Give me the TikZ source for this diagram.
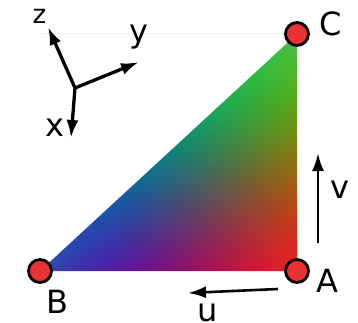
\documentclass[tikz,border=0pt]{standalone}
\usepackage{fontspec}
\setmainfont{DejaVu Sans}
\definecolor{ptred}{RGB}{234,50,52}
\usetikzlibrary{arrows.meta}
% red at A, blue at B, green at C; saturated mix, pulled to the muted
% corner colours near the corners
\pgfdeclarefunctionalshading{rgbtri}{\pgfpointorigin}{\pgfpoint{100bp}{100bp}}{}{
  25 sub 50 div exch 25 sub 50 div
  exch 2 copy sub 3 1 roll exch 1 exch sub exch
  2 index dup dup mul mul
  2 index dup dup mul mul add
  1 index dup dup mul mul add
  3 index -0.09 mul 3 index 0.21 mul add 2 index 0.32 mul add 1 index mul 4 index add
  4 index 0.13 mul 4 index 0.32 mul add 3 index -0.27 mul add 2 index mul 3 index add
  5 index 0.16 mul 5 index -0.35 mul add 4 index 0.28 mul add 3 index mul 5 index add
  7 3 roll pop pop pop pop
}
\tikzset{
  vertex/.style={circle, draw=black, line width=2.8pt, fill=ptred, minimum size=23pt, inner sep=0pt},
  lab/.style={font=\fontsize{32}{36}\selectfont, inner sep=0pt, anchor=base},
  axis/.style={line width=3.3pt, -{Latex[length=18pt,width=12pt]}},
}

\begin{document}
\begin{tikzpicture}[x=1pt,y=-1pt]
  \useasboundingbox (0,0) rectangle (358,323);

  % triangle
  \coordinate (a) at (297,271);
  \coordinate (b) at (40,271);
  \coordinate (c) at (297,34);
  \coordinate (top) at (40,34);
  \draw[gray!12, line width=1pt] (top) -- (c);
  \shade[shading=rgbtri] (b) -- (a) -- (c) -- cycle;

  \node[vertex] (ptA) at (a) {};
  \node[vertex] (ptB) at (b) {};
  \node[vertex] (ptC) at (c) {};
  \node[lab] (labA) at (327,292) {A};
  \node[lab] (labB) at (57,313) {B};
  \node[lab] (labC) at (331,36) {C};

  % axes
  \coordinate (O) at (75,88);
  \coordinate (ztip) at (48,27);
  \coordinate (ytip) at (139,62);
  \coordinate (xtip) at (71,138);
  \draw[axis] (O) -- (ztip);
  \draw[axis] (O) -- (ytip);
  \draw[axis] (O) -- (xtip);
  \node[lab, font=\fontsize{26}{28}\selectfont] (labz) at (39.5,24) {z};
  \node[lab] (laby) at (139,43) {y};
  \node[lab] (labx) at (54.5,137) {x};

  % u, v
  \coordinate (u0) at (278,289);
  \coordinate (u1) at (188,293);
  \coordinate (v0) at (318,243);
  \coordinate (v1) at (318,153);
  \draw[axis, line width=2.6pt] (u0) -- (u1);
  \draw[axis, line width=2.6pt] (v0) -- (v1);
  \node[lab] (labu) at (208,321) {u};
  \node[lab] (labv) at (340,198) {v};
\end{tikzpicture}
\end{document}
